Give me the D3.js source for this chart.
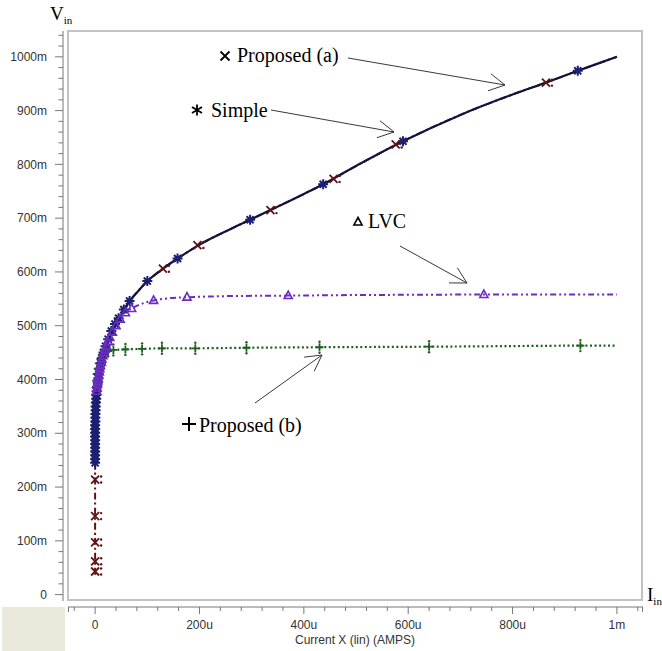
<!DOCTYPE html>
<html>
<head>
<meta charset="utf-8">
<script src="https://cdn.jsdelivr.net/npm/d3@7"></script>
<style>
  body { margin: 0; background: #fff; }
  svg { display: block; }
</style>
</head>
<body>
<svg id="chart" width="662" height="651"></svg>
<script>
// currents in uA, voltages in mV

// shared curve of Simple / Proposed (a)
const mainI = [0, 0, 0.5, 1, 2, 3, 5, 7, 10, 14, 20, 28, 38, 50, 66, 84, 100, 130, 158, 208, 260, 297, 336, 400, 437, 500, 590, 700, 800, 864, 925, 1000]
const mainV = [37, 245, 330, 352, 370, 380, 395, 410, 428, 443, 460, 478, 500, 520, 546, 566, 583, 606, 625, 655, 680, 697, 715, 745, 763, 797, 843, 892, 930, 952, 974, 1000]

// Simple markers
const simpleI = [0, 0, 0, 0, 0, 0, 0, 0, 0, 0, 0, 0.5, 0.5, 0.5, 1, 1, 1.5, 2, 2.5, 3, 4, 5, 6, 7, 9, 11, 13, 16, 20, 25, 31, 38, 45, 55, 66, 100, 158, 297, 437, 590, 925]
const simpleV = [245, 252, 259, 266, 273, 280, 287, 294, 301, 308, 315, 322, 329, 336, 343, 350, 357, 364, 371, 378, 386, 394, 402, 410, 420, 430, 440, 450, 462, 475, 490, 503, 514, 530, 546, 583, 625, 697, 763, 843, 974]

// Proposed (a) markers
const propAI = [0, 0, 0, 0, 0, 130, 196, 336, 457, 576, 864]
const propAV = [43, 62, 97, 146, 214, 606, 650, 715, 773, 837, 952]

// LVC line and markers
const lvcI = [3, 5, 7, 10, 14, 20, 28, 36, 45, 55, 70, 90, 112, 140, 176, 250, 370, 500, 745, 1000]
const lvcV = [378, 395, 410, 428, 443, 460, 478, 495, 510, 522, 532, 541, 547, 551, 553, 555, 556, 557, 558, 558]
const lvcMarkI = [3, 3.5, 4, 5, 6, 7, 8, 9, 10, 12, 13, 15, 17, 19, 22, 25, 28, 33, 40, 48, 58, 70, 112, 176, 370, 745]
const lvcMarkV = [378, 384, 390, 396, 402, 408, 414, 420, 426, 432, 438, 444, 450, 456, 462, 470, 478, 488, 500, 512, 524, 532, 547, 553, 556, 558]

// Proposed (b) line and markers
const propBI = [0, 2, 5, 10, 16, 25, 40, 58, 90, 128, 192, 290, 430, 640, 930, 1000]
const propBV = [370, 400, 425, 440, 449, 453, 455, 456, 457, 458, 458, 459, 460, 461, 463, 463]
const propBMarkI = [0, 1, 2, 3, 5, 7, 10, 13, 18, 25, 35, 58, 90, 128, 192, 290, 430, 640, 930]
const propBMarkV = [372, 385, 398, 410, 420, 430, 438, 445, 450, 453, 455, 456, 457, 458, 458, 459, 460, 461, 463]

const xTicks = [0, 200, 400, 600, 800, 1000]
const xTickLabels = ["0", "200u", "400u", "600u", "800u", "1m"]
const yTicks = [0, 100, 200, 300, 400, 500, 600, 700, 800, 900, 1000]
const yTickLabels = ["0", "100m", "200m", "300m", "400m", "500m", "600m", "700m", "800m", "900m", "1000m"]

const zip = (a, b) => a.map((d, i) => [d, b[i]])

const svg = d3.select("#chart")
const x = d3.scaleLinear().domain([-52, 1050]).range([68, 643])
const y = d3.scaleLinear().domain([-10, 1048]).range([600, 31])

const serif = "'Liberation Serif', 'Times New Roman', serif"
const sans = "'Liberation Sans', Arial, sans-serif"

// corner box
svg.append("rect").attr("x", 2).attr("y", 607).attr("width", 63).attr("height", 44).attr("fill", "#ebe9dc")

// plot frame
svg.append("rect")
  .attr("x", 68).attr("y", 31).attr("width", 574).attr("height", 569)
  .attr("fill", "#fff").attr("stroke", "#c2c2c2").attr("stroke-width", 2)

// y ruler
const yr = svg.append("g").attr("stroke", "#777").attr("stroke-width", 1)
yr.append("line").attr("x1", 63).attr("x2", 63).attr("y1", 31).attr("y2", 601)
d3.range(0, 1041, 20).forEach(v => {
  const major = v % 100 == 0
  yr.append("line")
    .attr("x1", major ? 55 : 58.5).attr("x2", 63)
    .attr("y1", y(v)).attr("y2", y(v))
})
svg.append("g").selectAll("text").data(yTicks).join("text")
  .attr("x", 47).attr("y", d => y(d)).attr("dy", "0.35em")
  .attr("text-anchor", "end").attr("font-family", sans).attr("font-size", 12).attr("fill", "#333")
  .text((d, i) => yTickLabels[i])

// x ruler
const xr = svg.append("g").attr("stroke", "#777").attr("stroke-width", 1)
xr.append("line").attr("x1", 68).attr("x2", 643).attr("y1", 607).attr("y2", 607)
d3.range(-40, 1041, 40).forEach(v => {
  const major = v % 200 == 0
  xr.append("line")
    .attr("x1", x(v)).attr("x2", x(v))
    .attr("y1", 607).attr("y2", major ? 614 : 611)
})
xr.append("line").attr("x1", 68.5).attr("x2", 68.5).attr("y1", 607).attr("y2", 612)
xr.append("line").attr("x1", 642.5).attr("x2", 642.5).attr("y1", 607).attr("y2", 612)
svg.append("g").selectAll("text").data(xTicks).join("text")
  .attr("x", d => x(d)).attr("y", 629)
  .attr("text-anchor", "middle").attr("font-family", sans).attr("font-size", 12).attr("fill", "#333")
  .text((d, i) => xTickLabels[i])
svg.append("text").attr("x", 355).attr("y", 644).attr("text-anchor", "middle")
  .attr("font-family", sans).attr("font-size", 12).attr("fill", "#333")
  .text("Current X (lin) (AMPS)")

// axis names
const vt = svg.append("text").attr("x", 50).attr("y", 20).attr("font-family", serif).attr("font-size", 19)
vt.append("tspan").text("V")
vt.append("tspan").attr("font-size", 11).attr("dy", 4).text("in")
const it = svg.append("text").attr("x", 647).attr("y", 601).attr("font-family", serif).attr("font-size", 19)
it.append("tspan").text("I")
it.append("tspan").attr("font-size", 11).attr("dy", 4).text("in")

// lines
const line = d3.line().x(d => x(d[0])).y(d => y(d[1])).curve(d3.curveCatmullRom.alpha(0.5))
const plot = svg.append("g")

const mainPts = zip(mainI, mainV)
plot.append("path").datum(mainPts)
  .attr("d", line).attr("fill", "none").attr("stroke", "#5e1414").attr("stroke-width", 2)
  .attr("stroke-dasharray", "7,3,2,3")
plot.append("path").datum(zip(propBI, propBV))
  .attr("d", line).attr("fill", "none").attr("stroke", "#1f5f1f").attr("stroke-width", 2.2)
  .attr("stroke-dasharray", "2,2.5")
plot.append("path").datum(mainPts.filter(d => d[1] >= 245))
  .attr("d", line).attr("fill", "none").attr("stroke", "#13133f").attr("stroke-width", 2.2)
plot.append("path").datum(zip(lvcI, lvcV))
  .attr("d", line).attr("fill", "none").attr("stroke", "#6b2cc0").attr("stroke-width", 2)
  .attr("stroke-dasharray", "6,3,2,3,2,3")

// marker shapes
const star = r => {
  const a = r * 0.7071
  return `M0,${-r}V${r}M${-r},0H${r}M${-a},${-a}L${a},${a}M${-a},${a}L${a},${-a}`
}
const cross = r => `M${-r},${-r}L${r},${r}M${-r},${r}L${r},${-r}`
const plus = r => `M0,${-r}V${r}M${-r},0H${r}`
const tri = r => `M0,${-r}L${r * 0.9},${r * 0.65}H${-r * 0.9}Z`

function markers(pts, shape, color, sw, dots) {
  const g = plot.append("g")
  const m = g.selectAll("g").data(pts).join("g")
    .attr("transform", d => `translate(${x(d[0])},${y(d[1])})`)
  m.append("path").attr("d", shape).attr("fill", "none").attr("stroke", color).attr("stroke-width", sw)
  ;(dots || []).forEach(p => {
    m.append("circle").attr("cx", p[0]).attr("cy", p[1]).attr("r", 1.2).attr("fill", color)
  })
}

markers(zip(propBMarkI, propBMarkV), plus(4), "#1f5f1f", 1.8, [[0, -5.5], [0, 5.5]])
markers(zip(simpleI, simpleV), star(5), "#1c2070", 2)
markers(zip(propAI, propAV), cross(4), "#5e1414", 1.8, [[6, -3], [6, 3]])
markers(zip(lvcMarkI, lvcMarkV), tri(4.5), "#6b2cc0", 1.6)

// annotations
const note = svg.append("g").attr("font-family", serif).attr("font-size", 20).attr("fill", "#000")
function arrow(x1, y1, x2, y2) {
  const a = Math.atan2(y2 - y1, x2 - x1), L = 18, s = 0.5
  const g = svg.append("g").attr("stroke", "#222").attr("stroke-width", 0.9).attr("fill", "none")
  g.append("path").attr("d", `M${x1},${y1}L${x2},${y2}`)
  g.append("path").attr("d",
    `M${x2 - L * Math.cos(a - s)},${y2 - L * Math.sin(a - s)}L${x2},${y2}L${x2 - L * Math.cos(a + s)},${y2 - L * Math.sin(a + s)}`)
}

svg.append("path").attr("transform", "translate(225,56)").attr("d", cross(4.5))
  .attr("stroke", "#000").attr("stroke-width", 1.8).attr("fill", "none")
note.append("text").attr("x", 237).attr("y", 62).text("Proposed (a)")
arrow(348, 58, 505, 85)

svg.append("path").attr("transform", "translate(197,110)")
  .attr("d", "M0,-5.5V5.5M-5,-3L5,3M-5,3L5,-3")
  .attr("stroke", "#000").attr("stroke-width", 1.8).attr("fill", "none")
note.append("text").attr("x", 211).attr("y", 117).text("Simple")
arrow(271, 110, 394, 132)

svg.append("path").attr("transform", "translate(358,222)").attr("d", tri(4.5))
  .attr("stroke", "#000").attr("stroke-width", 1.6).attr("fill", "none")
note.append("text").attr("x", 368).attr("y", 228).text("LVC")
arrow(400, 246, 467, 283)

svg.append("path").attr("transform", "translate(189,424)").attr("d", plus(7))
  .attr("stroke", "#000").attr("stroke-width", 2).attr("fill", "none")
note.append("text").attr("x", 199).attr("y", 432).text("Proposed (b)")
arrow(255, 403, 322, 355)
</script>
</body>
</html>
